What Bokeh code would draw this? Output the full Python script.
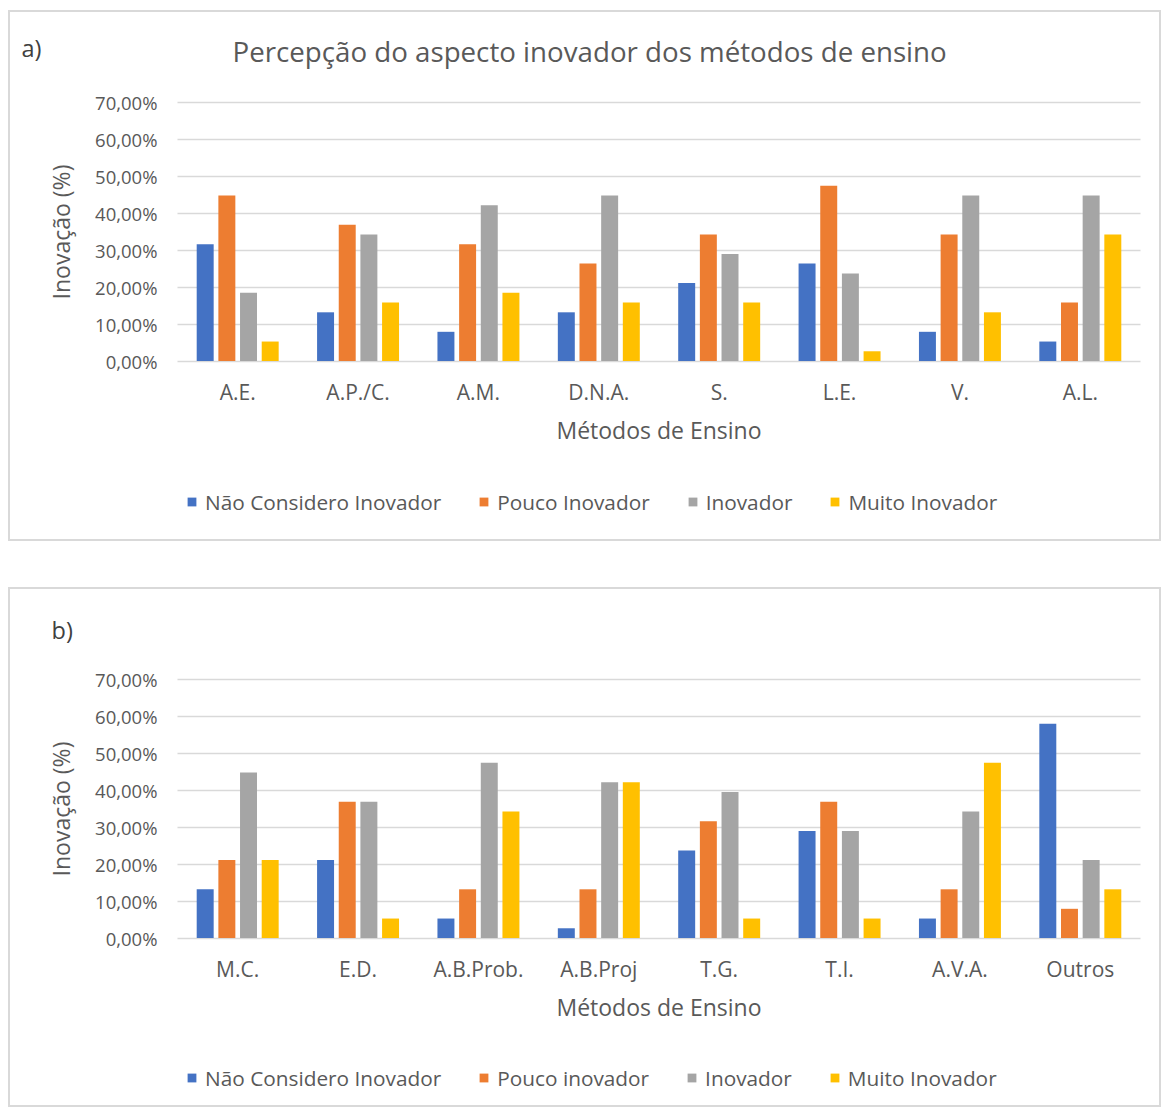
from bokeh.plotting import figure
from bokeh.models import (ColumnDataSource, Range1d, FixedTicker, LinearAxis, Grid,
                          CustomJSTickFormatter, Label, Legend, LegendItem, Column)
from bokeh.transform import dodge
from bokeh.embed import file_html
from bokeh.resources import INLINE

# ---------------- data ----------------
series_names_a = ["Não Considero Inovador", "Pouco Inovador", "Inovador", "Muito Inovador"]
series_names_b = ["Não Considero Inovador", "Pouco inovador", "Inovador", "Muito Inovador"]

cats_a = ["A.E.", "A.P./C.", "A.M.", "D.N.A.", "S.", "L.E.", "V.", "A.L."]
nao_a = [31.58, 13.16, 7.89, 13.16, 21.05, 26.32, 7.89, 5.26]
pouco_a = [44.74, 36.84, 31.58, 26.32, 34.21, 47.37, 34.21, 15.79]
inov_a = [18.42, 34.21, 42.11, 44.74, 28.95, 23.68, 44.74, 44.74]
muito_a = [5.26, 15.79, 18.42, 15.79, 15.79, 2.63, 13.16, 34.21]

cats_b = ["M.C.", "E.D.", "A.B.Prob.", "A.B.Proj", "T.G.", "T.I.", "A.V.A.", "Outros"]
nao_b = [13.16, 21.05, 5.26, 2.63, 23.68, 28.95, 5.26, 57.89]
pouco_b = [21.05, 36.84, 13.16, 13.16, 31.58, 36.84, 13.16, 7.89]
inov_b = [44.74, 36.84, 47.37, 42.11, 39.47, 28.95, 34.21, 21.05]
muito_b = [21.05, 5.26, 34.21, 42.11, 5.26, 5.26, 47.37, 13.16]

y_ticks = [0, 10, 20, 30, 40, 50, 60, 70]
title_a = "Percepção do aspecto inovador dos métodos de ensino"
x_title = "Métodos de Ensino"
y_title = "Inovação (%)"

colors = ["#4472C4", "#ED7D31", "#A5A5A5", "#FFC000"]
FONT = "Open Sans"
TXT = "#595959"

W = 1153              # canvas width (px)
PX_X = 120.375        # px per category
PX_Y = 3.7            # px per percentage point
LEFT_PX = 167         # canvas px left of the first category
RIGHT_PX = 23         # canvas px right of the last category
TOP_PX = 89.5         # canvas px above the 70 % line


def make_panel(cats, vals, names, tag, tag_xy, title, height, legend_y):
    n = len(cats)
    pos = [k + 0.5 for k in range(n)]
    src = ColumnDataSource(dict(pos=pos, s0=vals[0], s1=vals[1], s2=vals[2], s3=vals[3]))
    y_end = 70 + TOP_PX / PX_Y
    y_start = 70 - (height - TOP_PX) / PX_Y
    p = figure(x_range=Range1d(-LEFT_PX / PX_X, n + RIGHT_PX / PX_X),
               y_range=Range1d(y_start, y_end), width=W, height=height,
               x_axis_type=None, y_axis_type=None,
               output_backend="svg", toolbar_location=None,
               min_border=0)
    p.styles = {"border": "2px solid #d9d9d9"}
    p.outline_line_color = None
    p.xgrid.visible = False
    p.ygrid.visible = False

    yticker = FixedTicker(ticks=y_ticks)
    grid = Grid(dimension=1, ticker=yticker, cross_bounds=(0, n),
                grid_line_color="#d9d9d9", grid_line_width=1.5)
    p.add_layout(grid)

    common = dict(axis_line_color=None, major_tick_line_color=None, minor_tick_line_color=None,
                  major_tick_in=0, major_tick_out=0, minor_tick_in=0, minor_tick_out=0,
                  major_label_text_font=FONT, major_label_text_color=TXT,
                  axis_label_text_font=FONT, axis_label_text_color=TXT,
                  axis_label_text_font_style="normal", fixed_location=0)
    yaxis = LinearAxis(ticker=yticker, axis_label=y_title, bounds=(0, 70),
                       formatter=CustomJSTickFormatter(code="return tick.toFixed(2).replace('.', ',') + '%';"),
                       major_label_text_font_size="18.5px", major_label_standoff=20,
                       axis_label_text_font_size="23px", axis_label_standoff=15, **common)
    p.add_layout(yaxis, "left")
    xaxis = LinearAxis(ticker=FixedTicker(ticks=pos), axis_label=x_title, bounds=(0, n),
                       formatter=CustomJSTickFormatter(args=dict(cats=cats),
                                                       code="return cats[Math.round(tick - 0.5)] || '';"),
                       major_label_text_font_size="21px", major_label_standoff=17,
                       axis_label_text_font_size="23px", axis_label_standoff=4, **common)
    p.add_layout(xaxis, "below")

    offsets = [-0.27, -0.09, 0.09, 0.27]
    renderers = []
    for i in range(4):
        r = p.vbar(x=dodge("pos", offsets[i]), top="s%d" % i, bottom=0,
                   width=0.141, source=src, fill_color=colors[i], line_color=None)
        renderers.append(r)

    legend = Legend(items=[LegendItem(label=names[i], renderers=[renderers[i]]) for i in range(4)],
                    orientation="horizontal", location=(LEFT_PX + 9, legend_y))
    legend.border_line_color = None
    legend.background_fill_alpha = 0
    legend.padding = 0
    legend.margin = 0
    legend.spacing = 37
    legend.glyph_width = 11
    legend.glyph_height = 11
    legend.label_height = 26
    legend.label_standoff = 8
    legend.label_text_font = FONT
    legend.label_text_font_size = "20.8px"
    legend.label_text_color = TXT
    p.add_layout(legend)

    p.add_layout(Label(x=tag_xy[0], y=height - tag_xy[1], x_units="screen", y_units="screen",
                       text=tag, text_font=FONT, text_font_size="23.5px", text_color="#404040",
                       text_baseline="middle"))
    if title:
        p.add_layout(Label(x=222, y=height - 38, x_units="screen", y_units="screen",
                           text=title, text_font=FONT, text_font_size="27.7px",
                           text_color=TXT, text_baseline="middle"))
    return p


p1 = make_panel(cats_a, [nao_a, pouco_a, inov_a, muito_a], series_names_a,
                "a)", (11, 35), title_a, 531, 27.5)
p2 = make_panel(cats_b, [nao_b, pouco_b, inov_b, muito_b], series_names_b,
                "b)", (41, 40), None, 520, 17.5)

layout = Column(children=[p1, p2], spacing=46, margin=(10, 0, 0, 8))
open("out.html", "w").write(file_html(layout, INLINE))
